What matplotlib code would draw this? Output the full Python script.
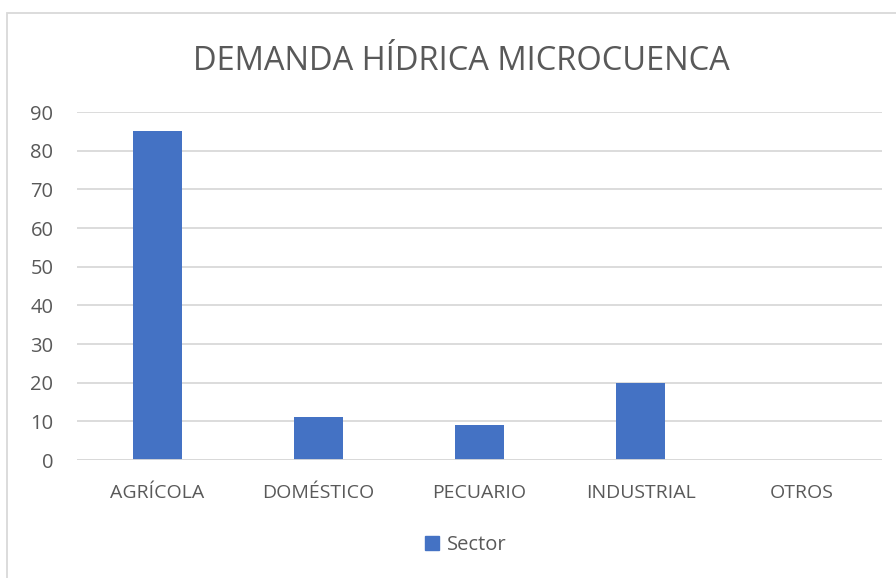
import matplotlib
matplotlib.use("Agg")
import matplotlib.pyplot as plt
from matplotlib.patches import Rectangle, Patch

# data
sectors = ["AGRÍCOLA", "DOMÉSTICO", "PECUARIO", "INDUSTRIAL", "OTROS"]
demand = [85, 11, 9, 20, 0]
y_ticks = [0, 10, 20, 30, 40, 50, 60, 70, 80, 90]

bar_color = "#4472c4"
grid_color = "#d9d9d9"
text_color = "#595959"

plt.rcParams["font.family"] = ["Open Sans", "DejaVu Sans"]

fig = plt.figure(figsize=(8.96, 5.78), dpi=100)
ax = fig.add_axes([77 / 896, 118 / 578, 805 / 896, 348 / 578])

x = list(range(len(sectors)))
ax.bar(x, demand, width=0.31, color=bar_color, zorder=3, label="Sector")

ax.set_xlim(-0.5, len(sectors) - 0.5)
ax.set_ylim(0, 90)
ax.set_yticks(y_ticks)
ax.set_xticks(x)
ax.set_xticklabels(sectors)
ax.tick_params(axis="both", length=0, colors=text_color)
ax.tick_params(axis="x", pad=17, labelsize=14)
ax.tick_params(axis="y", pad=17, labelsize=14.5)
ax.yaxis.grid(True, color=grid_color, linewidth=1.3, zorder=0)
for s in ax.spines.values():
    s.set_visible(False)
ax.axhline(0, color=grid_color, linewidth=1.3, zorder=4)

fig.text(461 / 896, 1 - 61 / 578, "DEMANDA HÍDRICA MICROCUENCA", ha="center",
         va="center", fontsize=23.5, color=text_color)

fig.legend(handles=[Patch(color=bar_color, label="Sector")], loc="center",
           bbox_to_anchor=(466 / 896, 1 - 545 / 578), frameon=False,
           fontsize=14.5, labelcolor=text_color, handlelength=0.7,
           handleheight=0.7, handletextpad=0.4)

# chart-area border, cropped at right and bottom like the reference
fig.patches.append(Rectangle((7 / 896, -0.05), 1.0, 1 - 13 / 578 + 0.05,
                             transform=fig.transFigure, fill=False,
                             edgecolor=grid_color, linewidth=1.3))

fig.savefig("out.png", dpi=100)
